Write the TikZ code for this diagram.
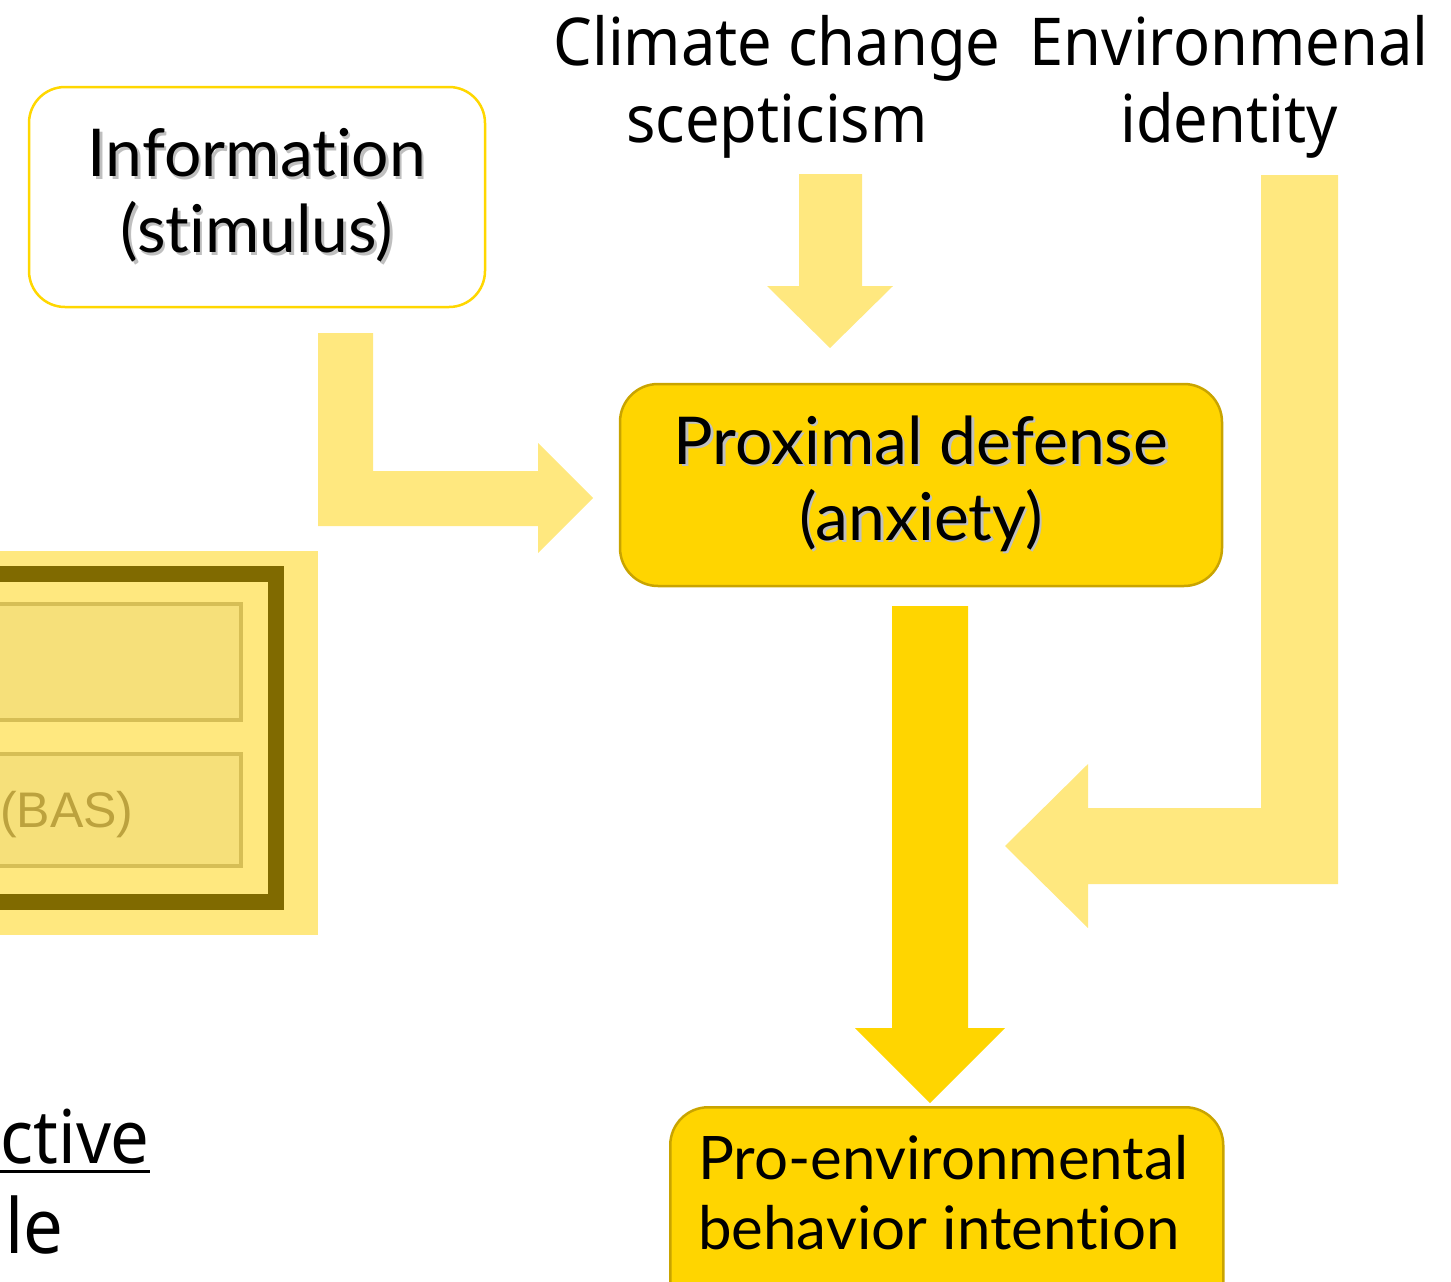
\documentclass[tikz,border=0pt]{standalone}
\usepackage{fontspec}
\setmainfont[Ligatures=NoCommon]{Lato}
\newfontfamily\uifont[FakeStretch=0.93]{Noto Sans}
\newfontfamily\arialfont{Liberation Sans}
\usetikzlibrary{calc}

\definecolor{paleY}{HTML}{FFE87F}
\definecolor{goldY}{HTML}{FFD500}
\definecolor{goldEdge}{HTML}{C9A400}
\definecolor{infoEdge}{HTML}{FFD700}
\definecolor{frameOlive}{HTML}{806A00}
\definecolor{cellFill}{HTML}{F6E07A}
\definecolor{cellEdge}{HTML}{D6BE55}
\definecolor{basText}{HTML}{BCA23E}

% text with a soft drop shadow
\newcommand\shtext[1]{\makebox[0pt][l]{\hspace{2.5pt}\raisebox{-2.5pt}{\textcolor{black!25}{#1}}}#1}

\tikzset{
  bigfont/.style={font=\fontsize{66}{76}\selectfont},
  labelfont/.style={font=\uifont\fontsize{66}{77}\selectfont},
  infobox/.style={draw=infoEdge, line width=2.5pt, fill=white, rounded corners=36pt,
    minimum width=456pt, minimum height=220pt, align=center, bigfont, inner sep=0pt},
  goldbox/.style={draw=goldEdge, line width=2.5pt, fill=goldY, rounded corners=38pt,
    align=center, inner sep=0pt},
  palearrow/.style={fill=paleY},
  goldarrow/.style={fill=goldY},
}

\begin{document}
\begin{tikzpicture}[x=1pt,y=-1pt]
\useasboundingbox (0,0) rectangle (1451,1282);
\clip (0,0) rectangle (1451,1282);

% ---- partially visible panel on the left ----
\fill[paleY] (-20,551) rectangle (318,935);
\draw[frameOlive, line width=16pt] (-40,574) rectangle (276,902);
\draw[cellEdge, fill=cellFill, line width=3.5pt] (-30,604) rectangle (241,720);
\draw[cellEdge, fill=cellFill, line width=3.5pt] (-30,754) rectangle (241,866);
\node[font=\arialfont\fontsize{50}{52}\selectfont, text=basText, anchor=base west, inner sep=0pt] (bas) at (0,827) {(BAS)};

% ---- clipped caption at the bottom left ----
\node[font=\uifont\fontsize{74}{80}\selectfont, anchor=base east, inner sep=0pt] (ctv) at (150,1163) {ctive};
\draw[line width=3pt] (0,1171) -- (ctv.base east |- 0,1171);
\node[font=\uifont\fontsize{76}{80}\selectfont, anchor=base west, inner sep=0pt] (le) at (5,1253) {le};

% ---- top labels ----
\node[labelfont, align=center, inner sep=0pt] (scept) at (777,87) {Climate change\\scepticism};
\node[labelfont, align=center, inner sep=0pt] (envid) at (1229,87) {Environmenal\\identity};

% ---- boxes ----
\node[infobox] (info) at (257,197) {\shtext{Information}\\\shtext{(stimulus)}};
\node[goldbox, bigfont, minimum width=602pt, minimum height=202pt] (prox) at (921,485)
  {\shtext{Proximal defense}\\\shtext{(anxiety)}};
\node[goldbox, minimum width=553pt, minimum height=240pt, anchor=north west] (pro) at (669,1106) {};
\node[font=\fontsize{60}{70}\selectfont, align=left, anchor=north west, inner sep=0pt] (protext) at (698,1135)
  {Pro-environmental\\behavior intention};

% ---- block arrows ----
% information -> proximal defense
\fill[palearrow] (318,333) -- (373,333) -- (373,471) -- (538,471) -- (538,443) -- (593,498)
  -- (538,553) -- (538,526) -- (318,526) -- cycle;
% scepticism -> proximal defense
\fill[palearrow] (799,174) -- (862,174) -- (862,286) -- (893,286) -- (830,348)
  -- (767,286) -- (799,286) -- cycle;
% environmental identity -> main arrow
\fill[palearrow] (1261,175) -- (1338,175) -- (1338,884) -- (1088,884) -- (1088,928)
  -- (1005,846) -- (1088,764) -- (1088,808) -- (1261,808) -- cycle;
% proximal defense -> intention
\fill[goldarrow] (892,606) -- (968,606) -- (968,1028) -- (1005,1028) -- (930,1103)
  -- (855,1028) -- (892,1028) -- cycle;
\end{tikzpicture}
\end{document}
